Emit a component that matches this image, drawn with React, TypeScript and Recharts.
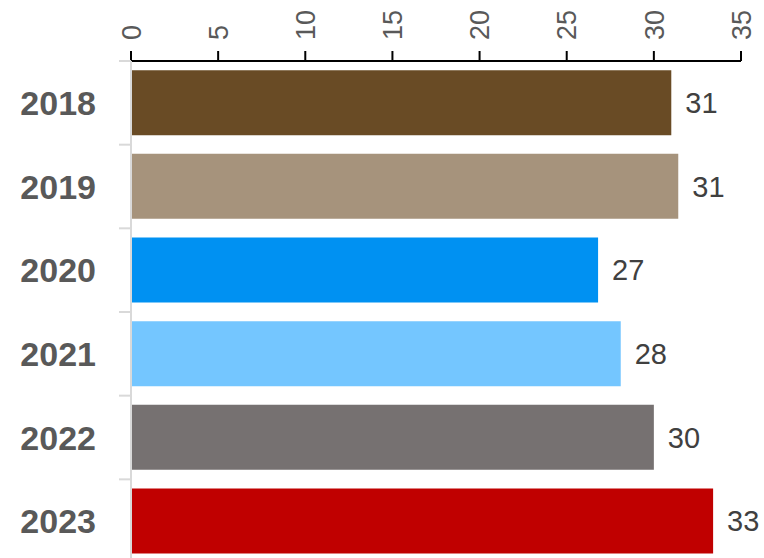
import React from 'react';
import { BarChart, Bar, XAxis, YAxis, Cell, LabelList } from 'recharts';

const years = ['2018', '2019', '2020', '2021', '2022', '2023'];
const values = [31.0, 31.4, 26.8, 28.1, 30.0, 33.4];
const barColors = ['#694B25', '#A6937C', '#0091F2', '#74C6FF', '#767171', '#C00000'];
const xTicks = [0, 5, 10, 15, 20, 25, 30, 35];

const data = years.map((year, i) => ({ year, value: values[i] }));

const FONT = '"Liberation Sans", Arial, sans-serif';
const Y_TICK_SIZE = 12;
const Y_TICK_MARGIN = 23;

const TopTick = (props: any) => {
  const { x, y, payload } = props;
  return (
    <text
      x={x}
      y={y}
      dy="0.36em"
      transform={`rotate(-90, ${x}, ${y})`}
      textAnchor="start"
      fill="#595959"
      fontSize={27}
      fontFamily={FONT}
    >
      {payload.value}
    </text>
  );
};

const YearTick = (props: any) => {
  const { x, y, payload, index } = props;
  const half = payload.offset || 41.8;
  const ax = x + Y_TICK_MARGIN;
  return (
    <g>
      <line x1={ax} x2={ax + Y_TICK_SIZE} y1={y - half} y2={y - half} stroke="#D9D9D9" strokeWidth={2} />
      {index === years.length - 1 && (
        <line x1={ax} x2={ax + Y_TICK_SIZE} y1={y + half} y2={y + half} stroke="#D9D9D9" strokeWidth={2} />
      )}
      <text
        x={x}
        y={y}
        dy="0.36em"
        textAnchor="end"
        fill="#595959"
        fontSize={34}
        fontWeight="bold"
        fontFamily={FONT}
      >
        {payload.value}
      </text>
    </g>
  );
};

const App: React.FC = () => {
  return (
    <div style={{ position: 'absolute', left: 0, top: 0, width: 764, height: 558, overflow: 'hidden', background: '#fff' }}>
      <BarChart
        width={764}
        height={564}
        data={data}
        layout="vertical"
        margin={{ top: 0, right: 23, bottom: 1, left: 0 }}
        barCategoryGap="11%"
        style={{ fontFamily: FONT }}
      >
        <XAxis
          type="number"
          orientation="top"
          domain={[0, 35]}
          ticks={xTicks}
          interval={0}
          height={61}
          tickSize={10}
          tickMargin={11}
          axisLine={{ stroke: '#000', strokeWidth: 2 }}
          tickLine={{ stroke: '#000', strokeWidth: 2 }}
          tick={<TopTick />}
        />
        <YAxis
          type="category"
          dataKey="year"
          width={131}
          tickSize={Y_TICK_SIZE}
          tickMargin={Y_TICK_MARGIN}
          tickLine={false}
          axisLine={{ stroke: '#D9D9D9', strokeWidth: 2 }}
          tick={<YearTick />}
          interval={0}
        />
        <Bar dataKey="value" isAnimationActive={false}>
          {data.map((d, i) => (
            <Cell key={d.year} fill={barColors[i]} />
          ))}
          <LabelList
            dataKey="value"
            position="right"
            offset={14}
            fill="#404040"
            fontSize={29}
            fontFamily={FONT}
            formatter={(v: any) => Math.round(Number(v))}
          />
        </Bar>
      </BarChart>
    </div>
  );
};

export default App;
